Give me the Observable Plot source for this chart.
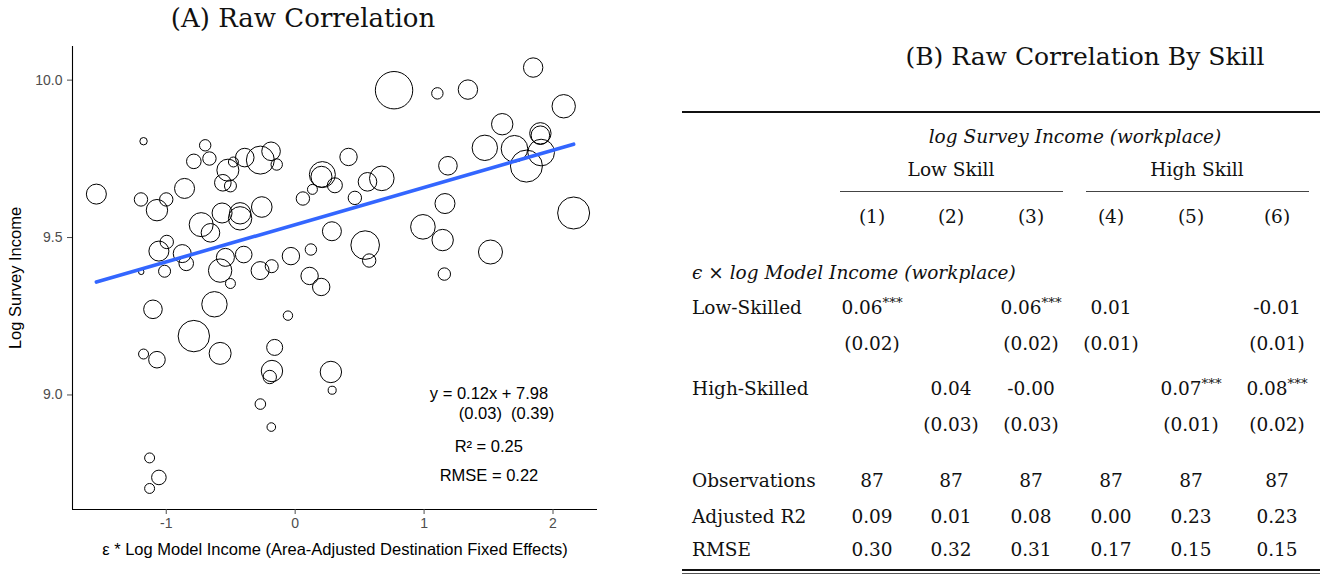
<!DOCTYPE html>
<html>
<head>
<meta charset="utf-8">
<script src="https://cdn.jsdelivr.net/npm/d3@7"></script>
<script src="https://cdn.jsdelivr.net/npm/@observablehq/plot@0.6"></script>
<style>
  html, body { margin: 0; padding: 0; background: #fff; }
  #wrap { position: relative; width: 1320px; height: 575px; overflow: hidden; background: #fff; }
  #panelA { position: absolute; left: 0; top: 0; width: 620px; }
  #titleA { height: 36px; width: 606px; text-align: center; font-family: "DejaVu Serif", serif; font-size: 26px; line-height: 36px; color: #111; white-space: nowrap; }
  #panelA svg { display: block; }
  #panelB { position: absolute; left: 0; top: 0; width: 1320px; height: 575px; font-family: "DejaVu Serif", serif; font-size: 18.5px; color: #111; }
  .cell { position: absolute; white-space: nowrap; line-height: 1; }
  .cell sup { font-size: 0.72em; position: relative; top: -0.5em; vertical-align: baseline; line-height: 0; }
  .rule { position: absolute; background: #111; }
</style>
</head>
<body>
<div id="wrap">
  <div id="panelA"><div id="titleA"></div></div>
  <div id="panelB"></div>
</div>
<script>
// ---------------- Panel A data ----------------
const titleA = "(A) Raw Correlation";
const xTitle = "\u03b5 * Log Model Income (Area-Adjusted Destination Fixed Effects)";
const yTitle = "Log Survey Income";
const xTicks = [-1, 0, 1, 2];
const yTicks = [9.0, 9.5, 10.0];

// epsilon * log model income (x), log survey income (y), bubble weight
const xVals = [
  -1.542, -1.176, -0.698, -0.786, -0.665, -0.522, -0.479, -0.561, -0.502, -0.391,
  -0.270, -0.187, -0.143, -1.196, -1.000, -1.072, -0.858, -0.729, -0.657, -0.567,
  -0.427, -0.427, -0.259, 0.060, 0.134, 0.211, 0.204, 0.308, 0.285, -0.996,
  -1.057, -0.876, -0.845, -1.194, -1.013, -0.541, -0.582, -0.399, -0.272, -0.182,
  -0.033, 0.122, 0.112, -0.502, 0.202, -1.103, -0.626, -0.786, -0.582, -1.176,
  -1.072, -0.056, -0.159, -0.180, -0.197, 0.277, 0.287, -0.270, -0.185, -1.129,
  -1.057, -1.129, 0.767, 1.103, 1.340, 1.846, 2.083, 1.606, 1.902, 1.902,
  1.471, 1.701, 1.908, 1.794, 1.185, 0.414, 0.561, 0.672, 0.463, 1.162,
  2.160, 0.991, 1.144, 0.543, 0.574, 1.515, 1.157
];
const yVals = [
  9.638, 9.806, 9.793, 9.742, 9.751, 9.714, 9.740, 9.674, 9.664, 9.754,
  9.746, 9.774, 9.732, 9.621, 9.621, 9.587, 9.656, 9.541, 9.515, 9.578,
  9.561, 9.577, 9.597, 9.624, 9.653, 9.700, 9.693, 9.666, 9.520, 9.486,
  9.457, 9.449, 9.418, 9.391, 9.393, 9.437, 9.395, 9.446, 9.395, 9.409,
  9.441, 9.462, 9.378, 9.354, 9.343, 9.272, 9.288, 9.187, 9.132, 9.130,
  9.112, 9.252, 9.151, 9.076, 9.057, 9.073, 9.015, 8.971, 8.898, 8.800,
  8.738, 8.703, 9.968, 9.958, 9.970, 10.040, 9.917, 9.860, 9.831, 9.825,
  9.785, 9.782, 9.770, 9.727, 9.728, 9.756, 9.677, 9.688, 9.626, 9.608,
  9.578, 9.534, 9.492, 9.476, 9.427, 9.454, 9.384
];
const weights = [
  28.6, 3.9, 9.3, 15.2, 12.8, 34.6, 7.1, 19.7, 10.3, 24.7,
  56.0, 24.7, 9.3, 12.8, 12.8, 32.7, 28.6, 41.2, 24.7, 28.6,
  39.1, 32.7, 30.3, 12.8, 7.1, 48.3, 31.5, 16.1, 25.8, 12.8,
  28.6, 23.2, 15.2, 2.1, 10.3, 23.2, 39.1, 19.7, 23.2, 12.1,
  21.6, 9.3, 21.6, 7.1, 21.6, 24.7, 46.1, 70.5, 34.6, 7.1,
  19.7, 6.3, 18.3, 32.7, 12.8, 32.7, 4.6, 8.0, 5.3, 7.1,
  15.2, 7.1, 100, 9.3, 26.9, 26.9, 39.1, 32.7, 32.7, 24.7,
  46.1, 50.6, 50.6, 73.2, 24.7, 21.6, 24.7, 43.3, 12.8, 28.6,
  73.2, 43.3, 32.7, 58.5, 12.8, 41.2, 11.0
];
// fitted line as drawn (slope, value at x = 0)
const fitSlope = 0.1183;
const fitAtZero = 9.541;
const eqLine1 = "y = 0.12x + 7.98";
const eqLine2 = "(0.03)\u00a0\u00a0(0.39)";
const eqLine3 = "R\u00b2 = 0.25";
const eqLine4 = "RMSE = 0.22";

// ---------------- Panel B data ----------------
const titleB = "(B) Raw Correlation By Skill";
const depVar = "log Survey Income (workplace)";
const groupLabels = ["Low Skill", "High Skill"];
const colLabels = ["(1)", "(2)", "(3)", "(4)", "(5)", "(6)"];
const regressorEps = "\u03f5";
const regressorText = "log Model Income (workplace)";
const rowNames = ["Low-Skilled", "High-Skilled", "Observations", "Adjusted R2", "RMSE"];
const lowCoef = ["0.06***", "", "0.06***", "0.01", "", "-0.01"];
const lowSE = ["(0.02)", "", "(0.02)", "(0.01)", "", "(0.01)"];
const highCoef = ["", "0.04", "-0.00", "", "0.07***", "0.08***"];
const highSE = ["", "(0.03)", "(0.03)", "", "(0.01)", "(0.02)"];
const observations = ["87", "87", "87", "87", "87", "87"];
const adjR2 = ["0.09", "0.01", "0.08", "0.00", "0.23", "0.23"];
const rmse = ["0.30", "0.32", "0.31", "0.17", "0.15", "0.15"];

// ---------------- Panel A drawing ----------------
document.getElementById("titleA").textContent = titleA;
const pts = xVals.map((x, i) => ({x, y: yVals[i], w: weights[i]}));
const [x0, x1] = d3.extent(xVals);
const [y0, y1] = d3.extent(yVals);
const xDom = [x0 - 0.05 * (x1 - x0), x1 + 0.05 * (x1 - x0)];
const yDom = [y0 - 0.05 * (y1 - y0), y1 + 0.05 * (y1 - y0)];
const fitLine = [x0, x1].map(x => ({x, y: fitAtZero + fitSlope * x}));

const eqFont = {fontSize: 16.5, fill: "#000", textAnchor: "middle", lineAnchor: "middle", frameAnchor: "bottom-right"};
const svgA = Plot.plot({
  width: 620, height: 539,
  marginLeft: 72, marginRight: 23, marginTop: 10, marginBottom: 66,
  x: {domain: xDom},
  y: {domain: yDom},
  r: {type: "sqrt", domain: [0, 100], range: [0, 18.7]},
  style: {fontFamily: '"Liberation Sans", Arial, sans-serif', background: "#fff", overflow: "visible"},
  marks: [
    Plot.ruleX([xDom[0]], {stroke: "#000", strokeWidth: 1.1}),
    Plot.ruleY([yDom[0]], {stroke: "#000", strokeWidth: 1.1}),
    Plot.axisX({ticks: xTicks, tickFormat: d => String(d), tickSize: 5, tickPadding: 4, label: null, fontSize: 14, color: "#4d4d4d"}),
    Plot.axisY({ticks: yTicks, tickFormat: d3.format(".1f"), tickSize: 5, tickPadding: 5, label: null, fontSize: 14, color: "#4d4d4d"}),
    Plot.dot(pts, {x: "x", y: "y", r: "w", stroke: "#000", strokeWidth: 1, fill: "none"}),
    Plot.line(fitLine, {x: "x", y: "y", stroke: "#3366FF", strokeWidth: 3.6}),
    Plot.text([xTitle], {text: d => d, frameAnchor: "bottom", textAnchor: "middle", lineAnchor: "middle", dy: 40, fontSize: 16.5, fill: "#000"}),
    Plot.text([yTitle], {text: d => d, frameAnchor: "left", textAnchor: "middle", lineAnchor: "middle", rotate: -90, dx: -57, fontSize: 16.5, fill: "#000"}),
    Plot.text([eqLine1], {...eqFont, text: d => d, dx: -108.5, dy: -116}),
    Plot.text([eqLine2], {...eqFont, text: d => d, dx: -91, dy: -96}),
    Plot.text([eqLine3], {...eqFont, text: d => d, dx: -108.7, dy: -63}),
    Plot.text([eqLine4], {...eqFont, text: d => d, dx: -108.5, dy: -34})
  ]
});
document.getElementById("panelA").appendChild(svgA);

// ---------------- Panel B drawing (table) ----------------
const B = document.getElementById("panelB");
const colX = [872, 951, 1031, 1111, 1191, 1277];
const labelX = 692;
const rowY = {title: 56, dep: 137, group: 170, cols: 217, regr: 273, low: 308, lowSE: 344,
              high: 389, highSE: 425, obs: 481, r2: 517, rmse: 550};

function put(text, cx, cy, opts = {}) {
  const d = document.createElement("div");
  d.className = "cell";
  d.style.left = cx + "px";
  d.style.top = cy + "px";
  d.style.transform = opts.start ? "translate(0,-50%)" : "translate(-50%,-50%)";
  if (opts.italic) d.style.fontStyle = "italic";
  if (opts.size) d.style.fontSize = opts.size + "px";
  const m = /^(.*?)(\*+)$/.exec(text);
  if (m) {
    d.appendChild(document.createTextNode(m[1]));
    const s = document.createElement("sup");
    s.textContent = m[2];
    d.appendChild(s);
  } else {
    d.textContent = text;
  }
  B.appendChild(d);
  return d;
}
function rule(xa, xb, y, h, color) {
  const r = document.createElement("div");
  r.className = "rule";
  r.style.left = xa + "px";
  r.style.width = (xb - xa) + "px";
  r.style.top = y + "px";
  r.style.height = h + "px";
  if (color) r.style.background = color;
  B.appendChild(r);
}

put(titleB, 1085, rowY.title, {size: 25});
rule(682, 1320, 111, 2);
put(depVar, 1075, rowY.dep, {italic: true});
put(groupLabels[0], 951, rowY.group);
put(groupLabels[1], 1197, rowY.group);
rule(840, 1063, 191, 1, "#444");
rule(1086, 1309, 191, 1, "#444");
colLabels.forEach((t, i) => put(t, colX[i], rowY.cols));

const reg = put("", labelX, rowY.regr, {start: true});
const e1 = document.createElement("span"); e1.style.fontStyle = "italic"; e1.textContent = regressorEps;
const e2 = document.createElement("span"); e2.textContent = " \u00d7 ";
const e3 = document.createElement("span"); e3.style.fontStyle = "italic"; e3.textContent = regressorText;
reg.append(e1, e2, e3);

const bodyRows = [
  [rowNames[0], lowCoef, rowY.low], ["", lowSE, rowY.lowSE],
  [rowNames[1], highCoef, rowY.high], ["", highSE, rowY.highSE],
  [rowNames[2], observations, rowY.obs], [rowNames[3], adjR2, rowY.r2], [rowNames[4], rmse, rowY.rmse]
];
for (const [name, vals, y] of bodyRows) {
  if (name) put(name, labelX, y, {start: true});
  vals.forEach((v, i) => { if (v) put(v, colX[i], y); });
}
rule(682, 1320, 569, 2);
rule(682, 1320, 572.5, 1, "#555");
</script>
</body>
</html>
